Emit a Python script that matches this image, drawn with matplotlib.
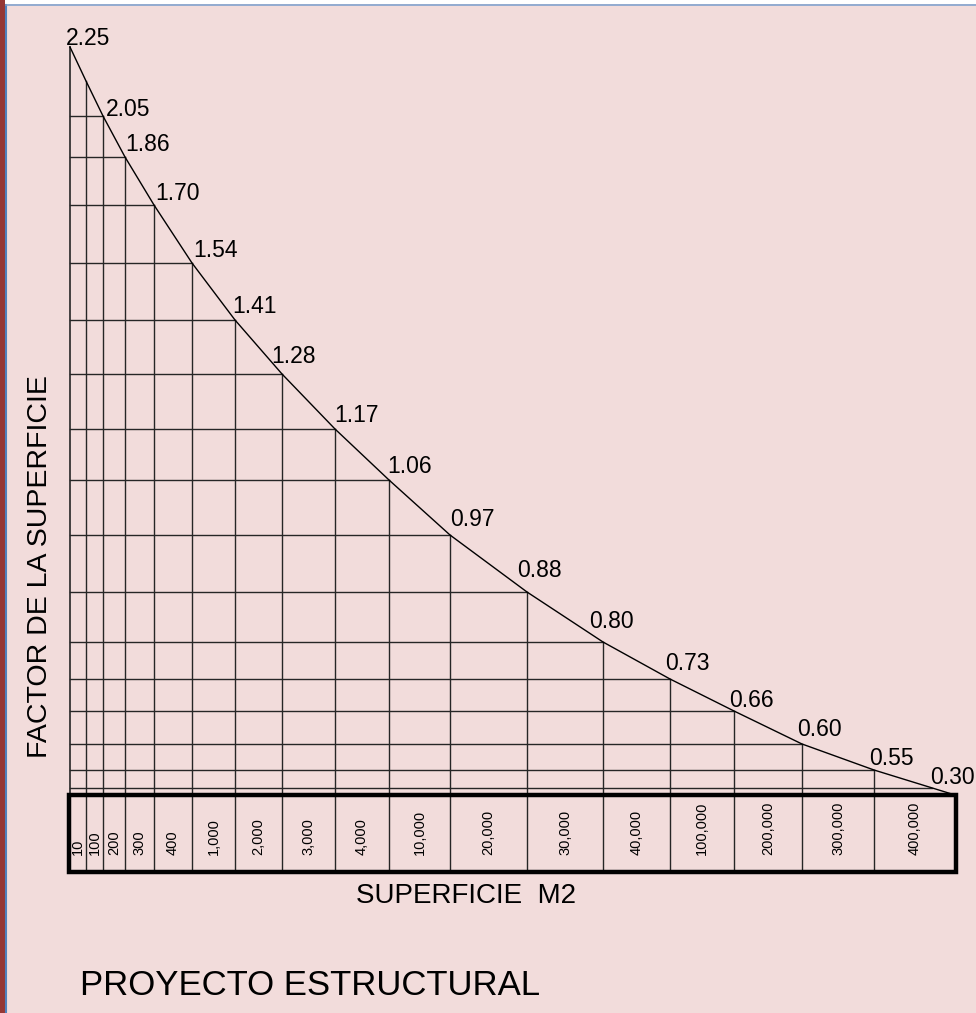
import matplotlib.pyplot as plt
import numpy as np
from matplotlib.patches import Rectangle

plt.rcParams['font.family'] = ['Liberation Sans', 'DejaVu Sans']

# surface classes (m2) shown in the table under the chart
areas = ["10", "100", "200", "300", "400", "1,000", "2,000", "3,000", "4,000",
         "10,000", "20,000", "30,000", "40,000", "100,000", "200,000",
         "300,000", "400,000"]
# surface factor written on the curve
factors = ["2.25", "2.05", "1.86", "1.70", "1.54", "1.41", "1.28", "1.17",
           "1.06", "0.97", "0.88", "0.80", "0.73", "0.66", "0.60", "0.55",
           "0.30"]

# column borders along the drawing (drawing units)
col_edges = [70, 86, 103, 125, 154, 192, 235, 282, 335, 389, 450, 527,
             603, 670, 734, 802, 874, 955]
# height of the curve above the base line at each border (drawing units)
curve_h = [748, 714, 679, 638, 590, 532, 475, 421, 366, 315, 260, 203,
           153, 116, 84, 51, 25, 0]
# which border each factor label belongs to
factor_edge = [0, 2, 3, 4, 5, 6, 7, 8, 9, 10, 11, 12, 13, 14, 15, 16, 17]
# level of the horizontal guide line drawn for each factor
guide_h = [748, 679, 638, 590, 532, 475, 421, 366, 315, 260, 203, 153,
           116, 84, 51, 25, 7]

# label nudges (style only)
lab_dx = [-4, 3, 0, 1, 1, -3, -11, -1, -2, 0, -10, -14, -5, -5, -5, -5, -25]
lab_dy = [-3, -5, 1, 0, 1, 2, 6, 2, 2, 4, 10, 9, 4, -1, 3, 0, 6]

box_h = 77
bg = '#F2DCDB'
ink = '#262626'

fig = plt.figure(figsize=(9.76, 10.13), dpi=100, facecolor='white')
# page decoration: pink sheet, red strip on the left, thin blue frame
fig.patches.append(Rectangle((6 / 976, 0), 1, 1 - 6 / 1013, transform=fig.transFigure,
                             facecolor=bg, edgecolor='none', zorder=-10))
fig.patches.append(Rectangle((0, 0), 5 / 976, 1, transform=fig.transFigure,
                             facecolor='#953735', edgecolor='none', zorder=-9))
fig.lines.append(plt.Line2D([6 / 976, 6 / 976], [0, 1 - 5 / 1013], transform=fig.transFigure,
                            color='#4F81BD', lw=1.5, zorder=-8))
fig.lines.append(plt.Line2D([6 / 976, 1], [1 - 5 / 1013, 1 - 5 / 1013], transform=fig.transFigure,
                            color='#7F9CC7', lw=1.2, zorder=-8))

ax = fig.add_axes([0, 0, 1, 1])
ax.set_zorder(5)
ax.set_xlim(0, 976)
ax.set_ylim(795 - 1013, 795)
ax.axis('off')

x = np.array(col_edges, dtype=float)
h = np.array(curve_h, dtype=float)

# curve
ax.plot(x, h, color='black', lw=1.0, zorder=4)

# left axis line
ax.plot([x[0], x[0]], [0, h[0]], color=ink, lw=1.2, zorder=3)

# vertical lines from the curve down through the table
for xi, hi in zip(x[1:-1], h[1:-1]):
    ax.plot([xi, xi], [-box_h, hi], color=ink, lw=1.0, zorder=3)

# horizontal guide lines from the axis to the curve
xs_rev, hs_rev = x[::-1], h[::-1]
for gh in guide_h[1:]:
    xe = np.interp(gh, hs_rev, xs_rev)
    ax.plot([x[0], xe], [gh, gh], color=ink, lw=1.0, zorder=3)

# factor labels
for lab, ei, dx, dy in zip(factors, factor_edge, lab_dx, lab_dy):
    ax.text(x[ei] + dx, h[ei] + dy, lab, ha='left', va='bottom', fontsize=16.5)

# table box
ax.add_patch(Rectangle((x[0] - 1, -box_h), x[-1] - x[0] + 2, box_h, fill=False,
                       edgecolor='black', lw=3.2, zorder=5))
centers = (x[:-1] + x[1:]) / 2
for cx, lab in zip(centers, areas):
    ax.text(cx, -box_h + 17, lab, rotation=90, ha='center', va='bottom', fontsize=10.5)

ax.text(466, -box_h - 24, 'SUPERFICIE  M2', ha='center', va='center', fontsize=20)
ax.text(40, 228, 'FACTOR DE LA SUPERFICIE', rotation=90, ha='center', va='center', fontsize=20.5)
ax.text(80, -box_h - 113, 'PROYECTO ESTRUCTURAL', ha='left', va='center', fontsize=25)

fig.savefig('out.png', dpi=100, facecolor=fig.get_facecolor())
